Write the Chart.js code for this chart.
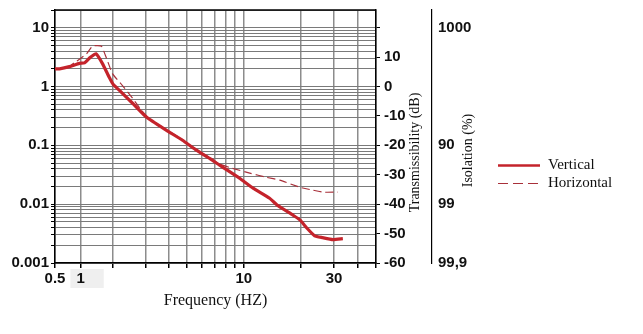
<!DOCTYPE html>
<html>
<head>
<meta charset="utf-8">
<script src="https://cdn.jsdelivr.net/npm/chart.js@4.4.0/dist/chart.umd.min.js"></script>
<style>
  html, body { margin: 0; padding: 0; background: #fff; }
  canvas { display: block; }
</style>
</head>
<body>
<canvas id="chart" width="643" height="334"></canvas>
<script>
// Transmissibility of the isolator versus excitation frequency (Hz)
const freqVertical = [0.5, 0.565, 0.74, 0.97, 1.09, 1.22, 1.40, 1.61, 1.87, 2.02, 2.18, 2.56, 3.04, 3.88, 4.72, 5.62, 6.58, 7.44, 9.5, 11.2, 13.7, 15.0, 18.2, 19.8, 21.6, 23.7, 26.1, 29.6, 33.4];
const transVertical = [2.0, 2.0, 2.18, 2.48, 2.52, 3.07, 3.6, 2.45, 1.42, 1.08, 0.86, 0.52, 0.30, 0.18, 0.122, 0.082, 0.060, 0.046, 0.0276, 0.0187, 0.0126, 0.0097, 0.0065, 0.0054, 0.0039, 0.0029, 0.0027, 0.0025, 0.0026];

const freqHorizontal = [0.5, 0.565, 0.74, 0.85, 1.0, 1.14, 1.30, 1.45, 1.58, 1.76, 2.0, 2.26, 2.56, 2.86, 3.16, 3.88, 4.72, 5.62, 6.58, 7.44, 8.7, 10.76, 13.2, 15.5, 19.8, 23.2, 26.3, 31.5];
const transHorizontal = [2.0, 2.0, 2.2, 2.55, 3.0, 3.6, 4.9, 4.95, 4.8, 3.0, 1.66, 1.04, 0.63, 0.39, 0.28, 0.185, 0.125, 0.084, 0.062, 0.048, 0.0407, 0.0337, 0.0286, 0.0256, 0.0194, 0.0173, 0.0160, 0.0160];

const seriesNames = ['Vertical', 'Horizontal'];

// Axis ticks and labels
const freqGrid = [0.5, 1, 2, 3, 4, 5, 6, 7, 8, 9, 10, 20, 30, 40, 50];
const freqLabels = ['0.5', '1', '10', '30'];
const transLabels = ['0.001', '0.01', '0.1', '1', '10'];
const dbTicks = [-60, -50, -40, -30, -20, -10, 0, 10, 20];
const dbLabels = ['-60', '-50', '-40', '-30', '-20', '-10', '0', '10'];
const isolationTicks = [10, 0.1, 0.01, 0.001];
const isolationLabels = ['1000', '90', '99', '99,9'];

// Minor grid of the transmissibility axis: 1..9 in every decade
function decadeGrid(lo, hi) {
  const out = [];
  for (let e = Math.round(Math.log10(lo)); e <= Math.ceil(Math.log10(hi)); e++) {
    for (let m = 1; m <= 9; m++) {
      const v = Number((m * Math.pow(10, e)).toPrecision(3));
      if (v >= lo && v <= hi) out.push(v);
    }
  }
  return out;
}

// Frequency axis: logarithmic inside each segment, with the decade
// spacing used on this printed chart (the octaves below 2 Hz are compressed).
const FREQ_AXIS_STOPS = [[0.5, 0], [1, 0.0796], [2, 0.179], [10, 0.588], [50, 1]];
class SegmentedLogScale extends Chart.LogarithmicScale {
  static id = 'segmentedLog';
  static defaults = Chart.LogarithmicScale.defaults;
  toDecimal(v) {
    const s = FREQ_AXIS_STOPS;
    let i = 0;
    while (i < s.length - 2 && v > s[i + 1][0]) i++;
    const [v0, d0] = s[i], [v1, d1] = s[i + 1];
    return d0 + (d1 - d0) * (Math.log10(v) - Math.log10(v0)) / (Math.log10(v1) - Math.log10(v0));
  }
  fromDecimal(d) {
    const s = FREQ_AXIS_STOPS;
    let i = 0;
    while (i < s.length - 2 && d > s[i + 1][1]) i++;
    const [v0, d0] = s[i], [v1, d1] = s[i + 1];
    const lv = Math.log10(v0) + (d - d0) / (d1 - d0) * (Math.log10(v1) - Math.log10(v0));
    return Math.pow(10, lv);
  }
  getPixelForValue(value) {
    if (value === undefined || value === 0) value = this.min;
    if (value === null || isNaN(value)) return NaN;
    return this.getPixelForDecimal(this.toDecimal(value));
  }
  getValueForPixel(pixel) {
    return this.fromDecimal(this.getDecimalForPixel(pixel));
  }
}
Chart.register(SegmentedLogScale);

const toPoints = (xs, ys) => xs.map((x, i) => ({ x, y: ys[i] }));

const BOLD_TICK = { family: '"Liberation Sans", Arial, sans-serif', size: 15, weight: 'bold' };
const SERIF = '"Liberation Serif", "Times New Roman", serif';

// Vertical axes keep the plot frame flush with the top margin
const noLabelOverhang = s => { s.paddingTop = 0; s.paddingBottom = 0; };

const whiteBackground = {
  id: 'whiteBackground',
  beforeDraw(chart) {
    const { ctx, width, height } = chart;
    ctx.save();
    ctx.fillStyle = '#fff';
    ctx.fillRect(0, 0, width, height);
    ctx.restore();
  }
};

// Closes the plot frame along the top edge
const topFrame = {
  id: 'topFrame',
  beforeDatasetsDraw(chart) {
    const { ctx, chartArea } = chart;
    ctx.save();
    ctx.strokeStyle = '#000';
    ctx.lineWidth = 1.5;
    ctx.beginPath();
    ctx.moveTo(chartArea.left, chartArea.top);
    ctx.lineTo(chartArea.right, chartArea.top);
    ctx.stroke();
    ctx.restore();
  }
};

// Titles of the two right-hand axes, reading upwards
const sideTitles = {
  id: 'sideTitles',
  afterDraw(chart) {
    const { ctx, chartArea, scales } = chart;
    const midY = (chartArea.top + chartArea.bottom) / 2;
    const drawUp = (text, x, y) => {
      ctx.save();
      ctx.translate(x, y);
      ctx.rotate(-Math.PI / 2);
      ctx.fillText(text, 0, 0);
      ctx.restore();
    };
    ctx.save();
    ctx.font = '14px ' + SERIF;
    ctx.fillStyle = '#111';
    ctx.textAlign = 'center';
    ctx.textBaseline = 'middle';
    drawUp('Transmissibility (dB)', scales.y2.right - 17, midY + 16);
    drawUp('Isolation (%)', scales.y3.right - 27, midY + 14);
    ctx.restore();
  }
};

// Series key to the right of the isolation axis, styled from the datasets
const seriesKey = {
  id: 'seriesKey',
  afterDraw(chart) {
    const { ctx, scales } = chart;
    const x0 = scales.y3.right + 3;
    const yMid = (chart.chartArea.top + chart.chartArea.bottom) / 2;
    ctx.save();
    ctx.font = '15px ' + SERIF;
    ctx.textBaseline = 'middle';
    ctx.textAlign = 'left';
    chart.data.datasets.forEach((ds, i) => {
      const y = yMid + 29 + i * 18;
      ctx.strokeStyle = ds.borderColor;
      ctx.lineWidth = i === 0 ? 2.5 : 1.2;
      ctx.setLineDash(ds.borderDash ? [10, 5] : []);
      ctx.beginPath();
      ctx.moveTo(x0, y);
      ctx.lineTo(x0 + 42, y);
      ctx.stroke();
      ctx.setLineDash([]);
      ctx.fillStyle = '#111';
      ctx.fillText(ds.label, x0 + 50, y);
    });
    ctx.restore();
  }
};

new Chart(document.getElementById('chart'), {
  type: 'line',
  data: {
    datasets: [
      {
        label: seriesNames[0],
        data: toPoints(freqVertical, transVertical),
        borderColor: '#c4232b',
        backgroundColor: '#c4232b',
        borderWidth: 3.2,
        pointRadius: 0,
        tension: 0.15,
        xAxisID: 'x',
        yAxisID: 'y'
      },
      {
        label: seriesNames[1],
        data: toPoints(freqHorizontal, transHorizontal),
        borderColor: '#a8303a',
        backgroundColor: '#a8303a',
        borderWidth: 1.2,
        borderDash: [8, 4],
        pointRadius: 0,
        tension: 0.15,
        xAxisID: 'x',
        yAxisID: 'y'
      }
    ]
  },
  options: {
    responsive: false,
    animation: false,
    devicePixelRatio: 1,
    layout: { padding: { left: 0, top: 10, right: 148, bottom: 0 } },
    plugins: {
      legend: { display: false },
      tooltip: { enabled: false }
    },
    scales: {
      x: {
        type: 'segmentedLog',
        position: 'bottom',
        min: 0.5,
        max: 50,
        afterBuildTicks: s => { s.ticks = freqGrid.map(v => ({ value: v })); },
        afterFit: s => { s.height = 71; s.paddingLeft = 0; s.paddingRight = 0; },
        grid: { color: '#8c8c8c', lineWidth: 1.5, tickColor: '#000', tickLength: 5 },
        border: { color: '#000', width: 1.5 },
        ticks: {
          autoSkip: false,
          maxRotation: 0,
          padding: 2,
          color: '#111',
          font: BOLD_TICK,
          callback: v => {
            const s = String(v);
            return freqLabels.includes(s) ? s : '';
          },
          showLabelBackdrop: ctx => !!ctx.tick && ctx.tick.value === 1,
          backdropColor: '#efefef',
          backdropPadding: { top: 1, bottom: 0, left: 6, right: 19 }
        },
        title: {
          display: true,
          text: 'Frequency (HZ)',
          color: '#111',
          font: { family: SERIF, size: 16 },
          padding: { top: 4, bottom: 24 }
        }
      },
      y: {
        type: 'logarithmic',
        position: 'left',
        min: 0.001,
        max: 20,
        afterBuildTicks: s => { s.ticks = decadeGrid(0.001, 20).map(v => ({ value: v })); },
        afterFit: s => { s.width = 55; noLabelOverhang(s); },
        grid: { color: '#7a7a7a', lineWidth: 1, tickColor: '#000', tickLength: 4 },
        border: { color: '#000', width: 1.5 },
        ticks: {
          autoSkip: false,
          padding: 2,
          color: '#111',
          font: BOLD_TICK,
          callback: v => {
            const s = String(v);
            return transLabels.includes(s) ? s : '';
          }
        }
      },
      y2: {
        type: 'linear',
        position: 'right',
        min: -60,
        max: 20 * Math.log10(20),
        afterBuildTicks: s => { s.ticks = dbTicks.map(v => ({ value: v })); },
        afterFit: s => { s.width = 56; noLabelOverhang(s); },
        grid: { drawOnChartArea: false, tickColor: '#000', tickLength: 4 },
        border: { color: '#000', width: 1.5 },
        ticks: {
          autoSkip: false,
          padding: 4,
          color: '#111',
          font: BOLD_TICK,
          callback: v => (dbLabels.includes(String(v)) ? String(v) : '')
        }
      },
      y3: {
        type: 'logarithmic',
        position: 'right',
        min: 0.001,
        max: 20,
        afterBuildTicks: s => { s.ticks = isolationTicks.map(v => ({ value: v })); },
        afterFit: s => { s.width = 63; noLabelOverhang(s); },
        grid: { drawOnChartArea: false, drawTicks: false },
        border: { color: '#000', width: 1.2 },
        ticks: {
          autoSkip: false,
          padding: 6,
          color: '#111',
          font: BOLD_TICK,
          callback: v => {
            const i = isolationTicks.indexOf(v);
            return i >= 0 ? isolationLabels[i] : '';
          }
        }
      }
    }
  },
  plugins: [whiteBackground, topFrame, sideTitles, seriesKey]
});
</script>
</body>
</html>
